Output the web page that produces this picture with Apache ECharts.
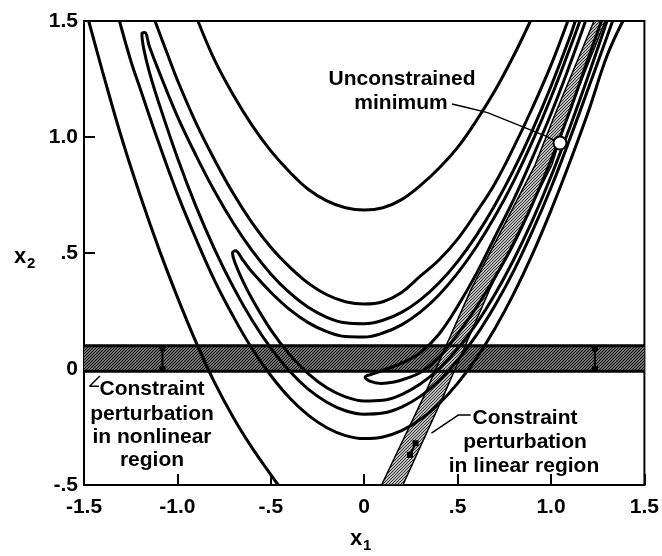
<!DOCTYPE html>
<html>
<head>
<meta charset="utf-8">
<script src="https://cdn.jsdelivr.net/npm/echarts@6/dist/echarts.min.js"></script>
<style>
html, body { margin: 0; padding: 0; background: #fff; }
#chart { width: 662px; height: 556px; }
</style>
</head>
<body>
<div id="chart"></div>
<script>
// tick labels as printed on the figure
var xTicks = ['-1.5', '-1.0', '-.5', '0', '.5', '1.0', '1.5'];
var yTicks = ['-.5', '0', '.5', '1.0', '1.5'];

// contour lines as [x1, x2]
var outerUpper = [[-0.89,1.50],[-0.8,1.33],[-0.7,1.18],[-0.6,1.05],[-0.5,0.94],[-0.4,0.85],[-0.3,0.775],[-0.2,0.725],[-0.1,0.695],[0,0.685],[0.1,0.695],[0.2,0.73],[0.3,0.79],[0.4,0.865],[0.5,0.955],[0.6,1.07],[0.7,1.20],[0.8,1.35],[0.89,1.50]];
var outerLower = [[-1.475,1.50],[-1.4,1.28],[-1.3,1.0],[-1.2,0.75],[-1.1,0.52],[-1.0,0.31],[-0.9,0.115],[-0.8,-0.06],[-0.7,-0.21],[-0.6,-0.34],[-0.5,-0.455],[-0.46,-0.50]];
var tenUpper = [[-1.12,1.50],[-1.05,1.35],[-1.0,1.245],[-0.9,1.06],[-0.8,0.90],[-0.7,0.755],[-0.6,0.63],[-0.5,0.525],[-0.4,0.44],[-0.3,0.37],[-0.2,0.32],[-0.1,0.29],[0,0.28],[0.1,0.29],[0.2,0.33],[0.3,0.40],[0.4,0.47],[0.5,0.56],[0.6,0.675],[0.7,0.80],[0.8,0.955],[0.9,1.125],[1.0,1.31],[1.09,1.50]];
var tenLower = [[-1.31,1.50],[-1.25,1.33],[-1.2,1.21],[-1.1,0.975],[-1.0,0.755],[-0.9,0.56],[-0.8,0.38],[-0.7,0.225],[-0.6,0.087],[-0.5,-0.028],[-0.4,-0.124],[-0.3,-0.199],[-0.2,-0.253],[-0.1,-0.287],[0,-0.30],[0.1,-0.293],[0.2,-0.266],[0.3,-0.218],[0.4,-0.15],[0.5,-0.062],[0.6,0.046],[0.7,0.175],[0.8,0.324],[0.9,0.494],[1.0,0.684],[1.1,0.89],[1.2,1.11],[1.3,1.35],[1.385,1.50]];
var fiveLoop = [[1.33,1.50],[1.2,1.21],[1.1,0.99],[1.0,0.781],[0.9,0.593],[0.8,0.422],[0.7,0.274],[0.6,0.145],[0.5,0.038],[0.4,-0.051],[0.3,-0.118],[0.2,-0.164],[0.1,-0.19],[0,-0.195],[-0.1,-0.18],[-0.2,-0.143],[-0.3,-0.087],[-0.4,-0.009],[-0.5,0.09],[-0.6,0.21],[-0.7,0.352],[-0.8,0.515],[-0.9,0.70],[-1.0,0.911],[-1.1,1.148],[-1.15,1.28],[-1.18,1.38],[-1.19,1.445],[-1.175,1.45],[-1.15,1.39],[-1.1,1.285],[-1.0,1.089],[-0.9,0.92],[-0.8,0.765],[-0.7,0.628],[-0.6,0.51],[-0.5,0.41],[-0.4,0.329],[-0.3,0.266],[-0.2,0.223],[-0.1,0.199],[0,0.195],[0.1,0.21],[0.2,0.244],[0.3,0.298],[0.4,0.371],[0.5,0.463],[0.6,0.575],[0.7,0.707],[0.8,0.858],[0.9,1.029],[1.0,1.219],[1.1,1.429],[1.13,1.50]];
var threeLoop = [[1.30,1.50],[1.2,1.265],[1.1,1.04],[1.0,0.83],[0.9,0.64],[0.8,0.471],[0.7,0.322],[0.6,0.194],[0.5,0.087],[0.4,0.001],[0.3,-0.065],[0.2,-0.11],[0.1,-0.135],[0,-0.138],[-0.1,-0.12],[-0.2,-0.081],[-0.3,-0.02],[-0.4,0.063],[-0.5,0.169],[-0.6,0.302],[-0.65,0.38],[-0.69,0.455],[-0.705,0.5],[-0.69,0.51],[-0.65,0.47],[-0.6,0.418],[-0.5,0.331],[-0.4,0.257],[-0.3,0.20],[-0.2,0.161],[-0.1,0.14],[0,0.138],[0.1,0.155],[0.2,0.19],[0.3,0.245],[0.4,0.319],[0.5,0.413],[0.6,0.526],[0.7,0.658],[0.8,0.809],[0.9,0.98],[1.0,1.17],[1.1,1.38],[1.155,1.50]];
var oneLoop = [[1.27,1.50],[1.2,1.34],[1.1,1.11],[1.0,0.90],[0.9,0.71],[0.8,0.54],[0.7,0.395],[0.6,0.265],[0.5,0.15],[0.4,0.05],[0.3,-0.015],[0.22,-0.042],[0.16,-0.056],[0.09,-0.062],[0.03,-0.052],[0.005,-0.035],[0.05,-0.02],[0.12,0.0],[0.2,0.025],[0.3,0.07],[0.4,0.15],[0.5,0.27],[0.6,0.41],[0.7,0.57],[0.8,0.73],[0.9,0.91],[1.0,1.10],[1.1,1.31],[1.185,1.50]];

// constraint perturbation bands
var nonlinearBand = [[-1.5,-0.01],[1.5,-0.01],[1.5,0.10],[-1.5,0.10]];
var linearBand = [[0.093,-0.5],[0.318,-0.12],[0.57,0.34],[0.915,0.88],[1.02,1.095],[1.23,1.5],[1.29,1.5],[1.09,1.095],[1.005,0.88],[0.67,0.34],[0.422,-0.12],[0.207,-0.5]];
var bandArrows = [[[-1.08,0.0],[-1.08,0.09]],[[1.235,0.0],[1.235,0.09]],[[0.245,-0.37],[0.275,-0.32]]];

// annotation marks
var minimumPoint = [[1.048,0.974]];
var minimumLeader = [[0.47,1.142],[0.56,1.125],[0.66,1.105],[0.973,1.004],[1.02,0.985]];
var nonlinearLeader = [[-1.415,-0.03],[-1.47,-0.074],[-1.42,-0.074]];
var linearLeader = [[0.57,-0.198],[0.505,-0.198],[0.36,-0.276]];

function hatch(bg, fg) {
    var c = document.createElement('canvas');
    c.width = 3; c.height = 3;
    var g = c.getContext('2d');
    g.fillStyle = bg;
    g.fillRect(0, 0, 3, 3);
    g.fillStyle = fg;
    for (var i = 0; i < 3; i++) g.fillRect(i, 2 - i, 1, 1);
    return c;
}

function polygon(points, fill, stroke, width, z) {
    return {
        type: 'custom',
        coordinateSystem: 'cartesian2d',
        silent: true,
        z: z,
        data: [[0, 0]],
        renderItem: function(params, api) {
            return {
                type: 'polygon',
                shape: { points: points.map(function(p) { return api.coord(p); }) },
                style: { fill: fill, stroke: stroke, lineWidth: width }
            };
        }
    };
}

function curve(points, width, smooth) {
    return {
        type: 'line',
        data: points,
        showSymbol: false,
        smooth: smooth,
        silent: true,
        z: 4,
        lineStyle: { color: '#000', width: width }
    };
}

var labelFont = { color: '#000', fontSize: 21, fontWeight: 'bold', fontFamily: 'Liberation Sans' };

function txt(s, x, y) {
    return {
        type: 'text', x: x, y: y,
        style: { text: s, fill: '#000', font: 'bold 21px "Liberation Sans"', align: 'center', verticalAlign: 'middle' }
    };
}

var chart = echarts.init(document.getElementById('chart'));

var series = [
    polygon(nonlinearBand, { image: hatch('#6e6e6e', '#111'), repeat: 'repeat' }, '#000', 0, 1),
    curve([nonlinearBand[0], nonlinearBand[1]], 3, false),
    curve([nonlinearBand[2], nonlinearBand[3]], 3, false),
    polygon(linearBand, { image: hatch('#bdbdbd', '#333'), repeat: 'repeat' }, '#000', 1.5, 2),
    curve(outerUpper, 3, 0.4),
    curve(outerLower, 3, 0.4),
    curve(tenUpper, 3, 0.4),
    curve(tenLower, 3, 0.4),
    curve(fiveLoop, 3, 0.4),
    curve(threeLoop, 3, 0.4),
    curve(oneLoop, 3, 0.4),
    curve(minimumLeader, 1.5, false),
    curve(nonlinearLeader, 1.5, false),
    curve(linearLeader, 1.5, false),
    {
        type: 'scatter',
        data: minimumPoint,
        symbolSize: 13,
        z: 6,
        silent: true,
        itemStyle: { color: '#fff', opacity: 1, borderColor: '#000', borderWidth: 2 }
    }
];
bandArrows.forEach(function(a) {
    series.push({
        type: 'line', data: a, silent: true, z: 5,
        symbol: ['none', 'triangle'], symbolSize: 6, showSymbol: true,
        lineStyle: { color: '#000', width: 2 }, itemStyle: { color: '#000' }
    });
});

chart.setOption({
    animation: false,
    grid: { left: 84, right: 17, top: 21, bottom: 71, show: true, borderColor: '#000', borderWidth: 2 },
    xAxis: {
        type: 'value', min: -1.5, max: 1.5, interval: 0.5,
        axisLine: { show: true, onZero: false, lineStyle: { color: '#000', width: 2 } },
        axisTick: { show: true, inside: true, length: 11, lineStyle: { color: '#000', width: 2 } },
        axisLabel: Object.assign({ margin: 12, formatter: function(v) { return xTicks[Math.round((v + 1.5) / 0.5)]; } }, labelFont),
        splitLine: { show: false }
    },
    yAxis: {
        type: 'value', min: -0.5, max: 1.5, interval: 0.5,
        axisLine: { show: true, onZero: false, lineStyle: { color: '#000', width: 2 } },
        axisTick: { show: true, inside: true, length: 11, lineStyle: { color: '#000', width: 2 } },
        axisLabel: Object.assign({ margin: 6, formatter: function(v) { return yTicks[Math.round((v + 0.5) / 0.5)]; } }, labelFont),
        splitLine: { show: false }
    },
    graphic: [
        txt('Unconstrained', 402, 79),
        txt('minimum', 401, 103),
        txt('Constraint', 152, 389),
        txt('perturbation', 152, 414),
        txt('in nonlinear', 152, 437),
        txt('region', 152, 460),
        txt('Constraint', 525, 418),
        txt('perturbation', 525, 442),
        txt('in linear region', 524, 466),
        { type: 'text', x: 14, y: 246, style: { text: 'x', fill: '#000', font: 'bold 22px "Liberation Sans"' } },
        { type: 'text', x: 27, y: 256, style: { text: '2', fill: '#000', font: 'bold 15px "Liberation Sans"' } },
        { type: 'text', x: 350, y: 528, style: { text: 'x', fill: '#000', font: 'bold 22px "Liberation Sans"' } },
        { type: 'text', x: 363, y: 538, style: { text: '1', fill: '#000', font: 'bold 15px "Liberation Sans"' } }
    ],
    series: series
});
</script>
</body>
</html>
